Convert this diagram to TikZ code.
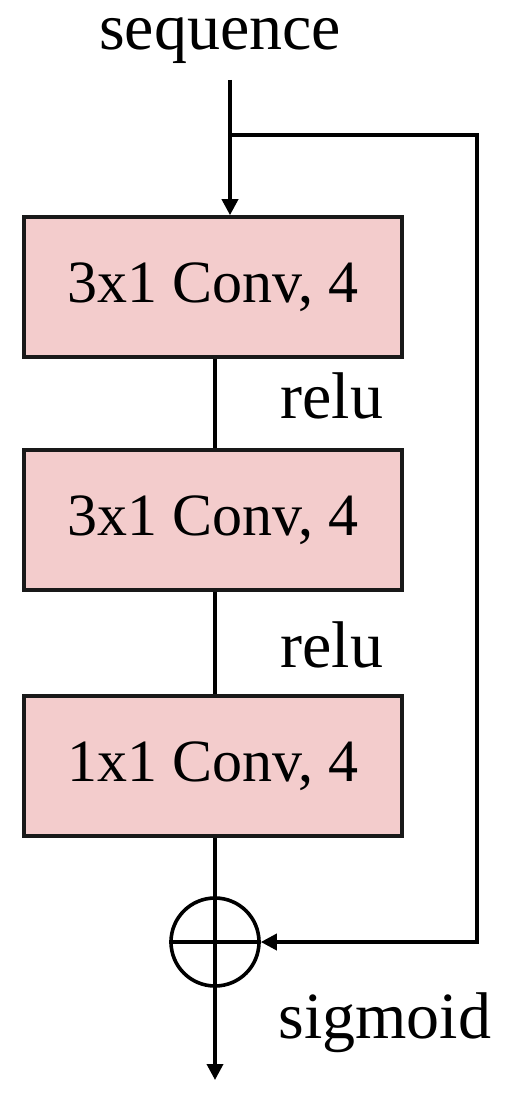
\documentclass[tikz,border=0pt]{standalone}
\usepackage{fontspec}
\setmainfont{Liberation Serif}
\usetikzlibrary{arrows.meta}
\definecolor{convpink}{RGB}{243,204,204}

\begin{document}
\begin{tikzpicture}[x=0.5pt,y=-0.5pt,line width=1.8pt,
    >={Triangle[length=8pt,width=8pt]},
    conv/.style={draw=black!90,fill=convpink,minimum width=189pt,minimum height=70pt,
        font=\fontsize{30}{36}\selectfont},
    lbl/.style={font=\fontsize{33}{40}\selectfont}]
    \useasboundingbox (0,0) rectangle (504,1102);
    % blocks
    \node[conv] (conv1) at (213,287) {3x1 Conv, 4};
    \node[conv] (conv2) at (213,520) {3x1 Conv, 4};
    \node[conv] (conv3) at (213,766) {1x1 Conv, 4};
    \node[circle,draw,minimum size=44pt,inner sep=0pt] (add) at (215,942) {};
    % labels
    \node[lbl,anchor=base] (seq) at (220,50) {sequence};
    \node[lbl,anchor=base west] (relu1) at (272,418) {relu};
    \node[lbl,anchor=base west] (relu2) at (272,667) {relu};
    \node[lbl,anchor=base west] (sig) at (270,1038) {sigmoid};
    \coordinate (in) at (230,80);
    \coordinate (split) at (230,135);
    \coordinate (br) at (477,942);
    \coordinate (out) at (215,1080);
    % connectors
    \draw [->] (in) -- (in |- conv1.north);
    \draw [->] (split) -| (br) -- (add.east);
    \draw (conv1.south -| add) -- (conv2.north -| add);
    \draw (conv2.south -| add) -- (conv3.north -| add);
    \draw (conv3.south -| add) -- (add.north);
    \draw (add.west) -- (add.east);
    \draw [->] (add.north) -- (out);
\end{tikzpicture}
\end{document}
